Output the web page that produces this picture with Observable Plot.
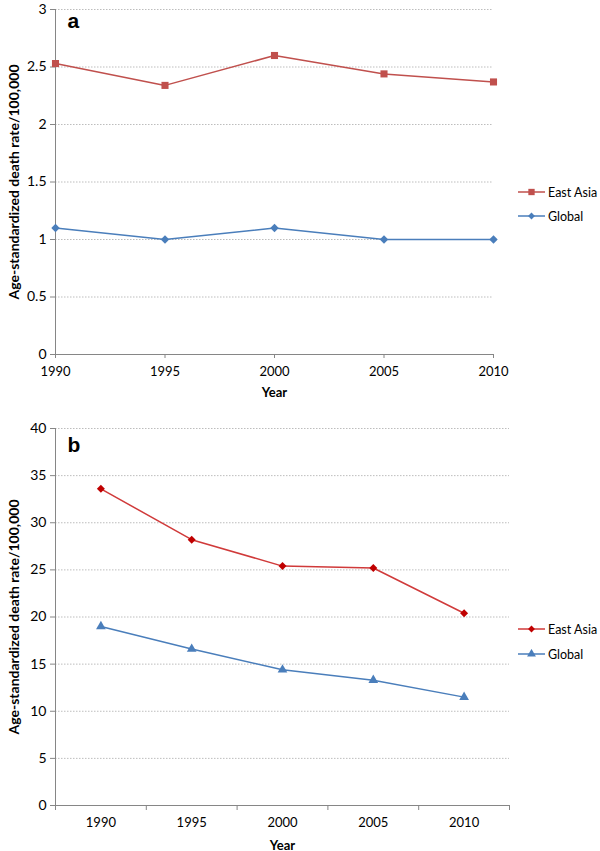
<!DOCTYPE html>
<html><head><meta charset="utf-8">
<script src="https://cdn.jsdelivr.net/npm/d3@7"></script>
<script src="https://cdn.jsdelivr.net/npm/@observablehq/plot@0.6"></script>
<style>
body{margin:0;background:#fff;}
#wrap{position:relative;width:600px;height:851px;overflow:hidden;font-family:Lato,"Liberation Sans",sans-serif;}
.panel{position:relative;width:600px;}
.panel svg{display:block;}
.legend{position:absolute;left:518px;top:0;font-size:12.5px;color:#000;}
.legend .item{position:absolute;left:0;white-space:nowrap;display:flex;align-items:center;height:18px;margin-top:-9px;}
.legend .item svg{margin-right:3px;}
g[aria-label="x-axis label"] text, g[aria-label="y-axis label"] text{font-weight:bold;}
</style>
</head><body>
<div id="wrap"></div>
<script>
// ---- data ----
const years = [1990, 1995, 2000, 2005, 2010];
const seriesNames = ["East Asia", "Global"];
const aEastAsia = [2.53, 2.34, 2.60, 2.44, 2.37];
const aGlobal = [1.1, 1.0, 1.1, 1.0, 1.0];
const bEastAsia = [33.6, 28.2, 25.4, 25.2, 20.4];
const bGlobal = [19.0, 16.6, 14.4, 13.3, 11.5];
const aYTicks = [0, 0.5, 1, 1.5, 2, 2.5, 3];
const bYTicks = [0, 5, 10, 15, 20, 25, 30, 35, 40];
const yLabel = "Age-standardized death rate/100,000";
const xLabel = "Year";
const panelLetters = ["a", "b"];

// ---- styles ----
const axisGray = "#868686";
const gridGray = "#bdbdbd";
const font = "Lato, 'Liberation Sans', sans-serif";
const numFmt = d => String(d);

function tidy(a, b) {
  return years.flatMap((yr, i) => [
    {year: yr, value: a[i], series: seriesNames[0]},
    {year: yr, value: b[i], series: seriesNames[1]}
  ]);
}

function legend(items, tops) {
  const lg = document.createElement("div");
  lg.className = "legend";
  items.forEach((it, i) => {
    const d = document.createElement("div");
    d.className = "item";
    d.style.top = tops[i] + "px";
    const s = d3.create("svg").attr("width", 27).attr("height", 10);
    s.append("line").attr("x1", 0).attr("x2", 27).attr("y1", 5).attr("y2", 5)
      .attr("stroke", it.line).attr("stroke-width", 1.5);
    const sym = d3.symbol().type(it.symbol).size(it.size);
    s.append("path").attr("d", sym()).attr("transform", "translate(13.5,5)").attr("fill", it.fill);
    d.appendChild(s.node());
    d.appendChild(document.createTextNode(it.name));
    lg.appendChild(d);
  });
  return lg;
}

const wrap = document.getElementById("wrap");

// ---- panel a ----
const dataA = tidy(aEastAsia, aGlobal);
const plotA = Plot.plot({
  width: 600, height: 410,
  marginTop: 9, marginLeft: 55, marginRight: 107, marginBottom: 56,
  style: {fontFamily: font, fontSize: "12px", color: "#000", background: "#fff"},
  x: {domain: [1990, 2010]},
  y: {domain: [0, 3]},
  marks: [
    Plot.gridY(aYTicks, {stroke: gridGray, strokeOpacity: 1, strokeDasharray: "1.5,1.5"}),
    Plot.ruleX([1990], {stroke: axisGray}),
    Plot.ruleY([0], {stroke: axisGray}),
    Plot.axisY({ticks: aYTicks, tickFormat: numFmt, tickSize: 5, tickPadding: 4, stroke: axisGray, fill: "#000",
      label: yLabel, labelAnchor: "center", labelArrow: "none", labelOffset: 46, fontSize: 14}),
    Plot.axisX({ticks: years, tickFormat: "d", tickSize: 4, tickPadding: 8, stroke: axisGray, fill: "#000",
      label: xLabel, labelAnchor: "center", labelArrow: "none", labelOffset: 42, fontSize: 13}),
    Plot.line(dataA.filter(d => d.series === "East Asia"), {x: "year", y: "value", stroke: "#C0504D", strokeWidth: 1.5}),
    Plot.dot(dataA.filter(d => d.series === "East Asia"), {x: "year", y: "value", symbol: "square", fill: "#C0504D", r: 4}),
    Plot.line(dataA.filter(d => d.series === "Global"), {x: "year", y: "value", stroke: "#4A7EBB", strokeWidth: 1.5}),
    Plot.dot(dataA.filter(d => d.series === "Global"), {x: "year", y: "value", symbol: "diamond2", fill: "#4A7EBB", r: 3.8}),
    Plot.text([panelLetters[0]], {text: d => d, frameAnchor: "top-left", dx: 12, dy: 4,
      fontSize: 21, fontWeight: "bold", fontFamily: "'Liberation Sans', Arial, sans-serif", fill: "#000"})
  ]
});
const pa = document.createElement("div");
pa.className = "panel";
pa.appendChild(plotA);
pa.appendChild(legend([
  {name: "East Asia", line: "#C0504D", fill: "#C0504D", symbol: d3.symbolSquare, size: 40},
  {name: "Global", line: "#4A7EBB", fill: "#4A7EBB", symbol: d3.symbolDiamond2, size: 30}
], [192, 216]));
wrap.appendChild(pa);

// ---- panel b ----
const dataB = tidy(bEastAsia, bGlobal);
const bBounds = years.map(y => y - 2.5).concat([years[years.length - 1] + 2.5]);
const plotB = Plot.plot({
  width: 600, height: 441,
  marginTop: 18, marginLeft: 55, marginRight: 91, marginBottom: 46,
  style: {fontFamily: font, fontSize: "12px", color: "#000", background: "#fff"},
  x: {domain: [bBounds[0], bBounds[bBounds.length - 1]]},
  y: {domain: [0, 40]},
  marks: [
    Plot.gridY(bYTicks, {stroke: gridGray, strokeOpacity: 1, strokeDasharray: "1.5,1.5"}),
    Plot.ruleX([bBounds[0]], {stroke: axisGray}),
    Plot.ruleY([0], {stroke: axisGray}),
    Plot.axisY({ticks: bYTicks, tickFormat: numFmt, tickSize: 5, tickPadding: 4, stroke: axisGray, fill: "#000",
      label: yLabel, labelAnchor: "center", labelArrow: "none", labelOffset: 46, fontSize: 14}),
    Plot.axisX({ticks: bBounds, tickFormat: () => "", tickSize: 5, stroke: axisGray, label: null}),
    Plot.axisX({ticks: years, tickFormat: "d", tickSize: 0, tickPadding: 12, fill: "#000",
      label: xLabel, labelAnchor: "center", labelArrow: "none", labelOffset: 44, fontSize: 13}),
    Plot.line(dataB.filter(d => d.series === "East Asia"), {x: "year", y: "value", stroke: "#D03A3A", strokeWidth: 1.5}),
    Plot.dot(dataB.filter(d => d.series === "East Asia"), {x: "year", y: "value", symbol: "diamond2", fill: "#C00000", r: 3.6}),
    Plot.line(dataB.filter(d => d.series === "Global"), {x: "year", y: "value", stroke: "#4A7EBB", strokeWidth: 1.5}),
    Plot.dot(dataB.filter(d => d.series === "Global"), {x: "year", y: "value", symbol: "triangle", fill: "#4A7EBB", r: 3.6}),
    Plot.text([panelLetters[1]], {text: d => d, frameAnchor: "top-left", dx: 12, dy: 9,
      fontSize: 21, fontWeight: "bold", fontFamily: "'Liberation Sans', Arial, sans-serif", fill: "#000"})
  ]
});
const pb = document.createElement("div");
pb.className = "panel";
pb.appendChild(plotB);
pb.appendChild(legend([
  {name: "East Asia", line: "#D03A3A", fill: "#C00000", symbol: d3.symbolDiamond2, size: 30},
  {name: "Global", line: "#4A7EBB", fill: "#4A7EBB", symbol: d3.symbolTriangle, size: 34}
], [219, 244]));
wrap.appendChild(pb);
</script>
</body></html>
